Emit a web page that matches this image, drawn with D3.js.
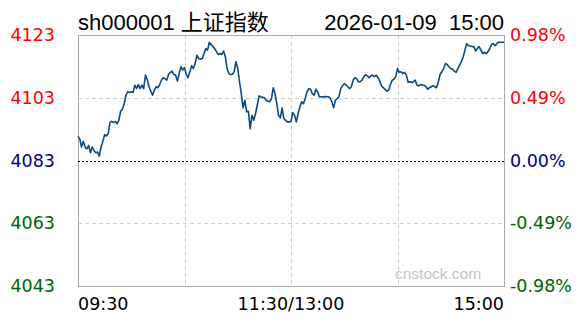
<!DOCTYPE html>
<html>
<head>
<meta charset="utf-8">
<script src="https://cdn.jsdelivr.net/npm/d3@7"></script>
<style>
  html, body { margin: 0; padding: 0; background: #fff; }
  svg { display: block; }
</style>
</head>
<body>
<div id="chart"><svg></svg></div>
<script>
const title = 'sh000001 上证指数';
const stamp = '2026-01-09  15:00';
const prevClose = 4083;

const priceTicks = [4123, 4103, 4083, 4063, 4043];
const pctTicks = ['0.98%', '0.49%', '0.00%', '-0.49%', '-0.98%'];
const timeTicks = [0, 120, 240];
const timeLabels = ['09:30', '11:30/13:00', '15:00'];

// minutes since 09:30 (lunch break removed) and index value
const minutes = [
  0, 1, 2, 3, 4, 5, 6, 7, 8, 9, 10, 11, 12, 13, 14, 15, 16, 17, 18, 19,
  20, 21, 22, 23, 24, 25, 26, 27, 28, 29, 30, 31, 32, 33, 34, 35, 36, 37, 38, 39,
  40, 42, 43, 44, 45, 46, 47, 48, 49, 50, 51, 52, 53, 54, 55, 56, 57, 58, 59, 60,
  61, 62, 63, 64, 65, 66, 67, 68, 69, 70, 71, 72, 73, 74, 75, 76, 77, 78, 79, 80,
  81, 82, 83, 84, 85, 86, 87, 88, 89, 90, 91, 92, 93, 94, 95, 96, 97, 98, 99, 100,
  101, 102, 103, 105, 106, 108, 109, 110, 111, 112, 113, 114, 115, 116, 117, 118, 119, 120,
  121, 122, 123, 124, 125, 126, 127, 128, 129, 130, 131, 132, 133, 134, 135, 136, 137, 138, 139,
  141, 142, 143, 144, 145, 146, 147, 148, 149, 150, 151, 152, 153, 154, 155, 156, 157, 158, 159, 160,
  161, 162, 163, 164, 165, 166, 167, 168, 169, 170, 171, 172, 173, 174, 175, 176, 177, 178, 179, 180,
  181, 182, 183, 184, 185, 186, 187, 188, 189, 190, 191, 192, 193, 195, 196, 197, 198, 200,
  201, 202, 203, 204, 205, 206, 207, 208, 209, 210, 211, 212, 213, 214, 215, 216, 217, 218, 219, 220,
  221, 222, 223, 224, 225, 226, 227, 228, 229, 230, 231, 232, 233, 234, 235, 236, 237, 238, 239, 240
];
const prices = [
  4090.7, 4089.9, 4087.3, 4089.1, 4087.3, 4086.7, 4087.8, 4085.5, 4087.3, 4086.2,
  4085.5, 4085.7, 4084.4, 4087.3, 4089.1, 4091.2, 4090.8, 4091.5, 4095.1, 4095.5,
  4095.1, 4095.5, 4094.7, 4095.8, 4098.7, 4099.3, 4101.1, 4103.8, 4104.9, 4104.7,
  4104.9, 4104.7, 4107.0, 4105.9, 4107.2, 4105.9, 4107.0, 4105.9, 4110.2, 4108.8,
  4106.5, 4103.8, 4105.4, 4106.5, 4106.2, 4107.2, 4108.6, 4109.4, 4109.1, 4108.6,
  4110.4, 4111.1, 4111.5, 4110.4, 4110.2, 4108.3, 4110.7, 4112.9, 4111.8, 4112.6,
  4110.4, 4109.4, 4111.3, 4113.2, 4112.3, 4113.9, 4116.6, 4115.5, 4115.3, 4115.5,
  4117.1, 4118.7, 4118.2, 4120.7, 4120.0, 4119.3, 4118.7, 4117.7, 4116.8, 4117.1,
  4116.8, 4117.9, 4116.1, 4112.3, 4110.7, 4110.4, 4110.5, 4111.3, 4114.5, 4112.3,
  4108.1, 4104.3, 4099.8, 4102.2, 4098.5, 4098.7, 4093.1, 4097.4, 4095.8, 4097.9,
  4100.6, 4103.6, 4103.3, 4103.0, 4102.2, 4101.7, 4102.7, 4106.2, 4104.3, 4101.1,
  4097.4, 4096.6, 4099.8, 4096.3, 4095.8, 4095.3, 4095.3, 4095.5,
  4098.3, 4097.4, 4095.3, 4097.9, 4100.1, 4101.7, 4101.1, 4102.7, 4104.9, 4105.9,
  4105.7, 4104.3, 4103.8, 4105.7, 4104.9, 4103.3, 4103.3, 4103.2, 4103.4,
  4103.3, 4103.0, 4101.7, 4099.8, 4102.2, 4102.7, 4103.3, 4105.9, 4106.8, 4107.5,
  4107.0, 4106.5, 4105.9, 4106.5, 4108.6, 4109.4, 4109.1, 4108.1, 4108.1, 4108.6,
  4109.7, 4110.4, 4110.0, 4109.4, 4110.0, 4110.2, 4109.7, 4110.2, 4109.4, 4108.3,
  4106.8, 4106.2, 4105.7, 4105.1, 4105.4, 4107.2, 4108.6, 4108.9, 4109.7, 4112.3,
  4111.1, 4111.3, 4110.7, 4111.1, 4110.2, 4107.9, 4108.1, 4107.9, 4108.1, 4108.6,
  4107.0, 4106.8, 4107.2, 4107.0, 4106.5, 4105.7, 4106.2, 4106.8,
  4106.5, 4106.2, 4108.1, 4110.4, 4111.3, 4112.3, 4113.9, 4113.6, 4112.9, 4112.3,
  4112.1, 4111.5, 4111.1, 4112.3, 4113.4, 4114.5, 4116.0, 4118.2, 4120.3, 4119.6,
  4119.5, 4119.3, 4119.3, 4117.9, 4118.7, 4119.3, 4118.2, 4117.1, 4117.5, 4117.1,
  4117.7, 4118.7, 4120.0, 4120.3, 4119.6, 4120.3, 4120.7, 4120.7, 4120.7, 4120.7
];

const width = 588;
const height = 324;
const plot = { left: 78, right: 504, top: 35, bottom: 286 };

const labelColor = (v) => v > prevClose ? '#ff0000' : (v < prevClose ? '#006400' : '#000080');

const svg = d3.select('#chart')
  .select('svg')
  .attr('width', width)
  .attr('height', height);

const x = d3.scaleLinear()
  .domain([0, 240])
  .range([plot.left, plot.right]);

const y = d3.scaleLinear()
  .domain([priceTicks[priceTicks.length - 1], priceTicks[0]])
  .range([plot.bottom, plot.top]);

// grid
svg.append('g')
  .selectAll('line')
  .data([4103, 4063])
  .enter()
  .append('line')
  .attr('x1', plot.left)
  .attr('x2', plot.right)
  .attr('y1', d => Math.round(y(d)) + 0.5)
  .attr('y2', d => Math.round(y(d)) + 0.5)
  .attr('stroke', '#d0d0d0')
  .attr('stroke-dasharray', '4,3');

svg.append('g')
  .selectAll('line')
  .data([60, 120, 180])
  .enter()
  .append('line')
  .attr('x1', d => Math.round(x(d)) + 0.5)
  .attr('x2', d => Math.round(x(d)) + 0.5)
  .attr('y1', plot.top)
  .attr('y2', plot.bottom)
  .attr('stroke', '#d0d0d0')
  .attr('stroke-dasharray', '4,3');

// frame
svg.append('rect')
  .attr('x', plot.left + 0.5)
  .attr('y', plot.top + 0.5)
  .attr('width', plot.right - plot.left)
  .attr('height', plot.bottom - plot.top)
  .attr('fill', 'none')
  .attr('stroke', '#aaaaaa');

// watermark
svg.append('text')
  .attr('x', 395)
  .attr('y', 279)
  .attr('font-family', 'Liberation Sans, Arial, sans-serif')
  .attr('font-size', 15.5)
  .attr('fill', '#c4c4c4')
  .text('cnstock.com');

// previous close
svg.append('line')
  .attr('x1', plot.left)
  .attr('x2', plot.right)
  .attr('y1', Math.round(y(prevClose)) + 0.5)
  .attr('y2', Math.round(y(prevClose)) + 0.5)
  .attr('stroke', '#000')
  .attr('stroke-dasharray', '2,2');

const line = d3.line()
  .x((d, i) => x(minutes[i]))
  .y(d => y(d));

svg.append('path')
  .datum(prices)
  .attr('d', line)
  .attr('fill', 'none')
  .attr('stroke', '#0d4a7e')
  .attr('stroke-width', 1.6)
  .attr('stroke-linejoin', 'round');

// axes labels
const leftAxis = d3.axisLeft(y).tickValues(priceTicks).tickSize(0).tickPadding(0)
  .tickFormat(d3.format('d'));
svg.append('g')
  .attr('transform', `translate(55,0)`)
  .call(leftAxis)
  .call(g => g.select('.domain').remove())
  .selectAll('text')
  .attr('font-family', 'DejaVu Sans, Verdana, sans-serif')
  .attr('font-size', 17.5)
  .attr('fill', d => labelColor(d));

const rightAxis = d3.axisRight(y).tickValues(priceTicks).tickSize(0).tickPadding(0)
  .tickFormat((d, i) => pctTicks[i]);
svg.append('g')
  .attr('transform', `translate(510,0)`)
  .call(rightAxis)
  .call(g => g.select('.domain').remove())
  .selectAll('text')
  .attr('font-family', 'DejaVu Sans, Verdana, sans-serif')
  .attr('font-size', 17.5)
  .attr('fill', d => labelColor(d));

svg.append('g')
  .selectAll('text')
  .data(timeTicks)
  .enter()
  .append('text')
  .attr('x', d => x(d))
  .attr('y', 310)
  .attr('text-anchor', (d, i) => i === 0 ? 'start' : (i === timeTicks.length - 1 ? 'end' : 'middle'))
  .attr('font-family', 'DejaVu Sans, Verdana, sans-serif')
  .attr('font-size', 17.5)
  .attr('fill', '#000')
  .text((d, i) => timeLabels[i]);

// title
svg.append('text')
  .attr('x', plot.left)
  .attr('y', 30)
  .attr('font-family', 'Liberation Sans, Noto Sans CJK SC, sans-serif')
  .attr('font-size', 22)
  .attr('fill', '#000')
  .text(title);

svg.append('text')
  .attr('x', plot.right)
  .attr('y', 30)
  .attr('text-anchor', 'end')
  .style('white-space', 'pre')
  .attr('font-family', 'Liberation Sans, Noto Sans CJK SC, sans-serif')
  .attr('font-size', 22)
  .attr('fill', '#000')
  .text(stamp);
</script>
</body>
</html>
